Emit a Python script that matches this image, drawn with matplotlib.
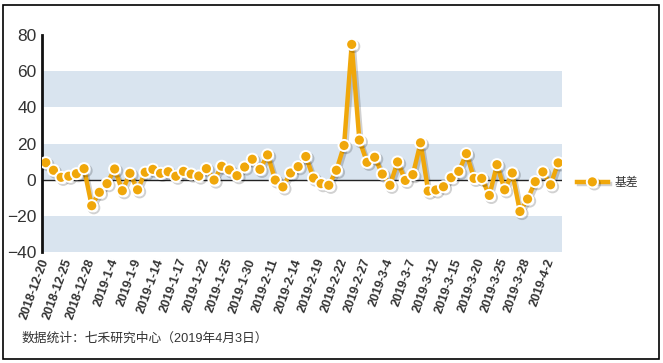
import matplotlib
matplotlib.use('Agg')
import matplotlib.pyplot as plt
import matplotlib.patheffects as pe
from matplotlib.patches import Rectangle

plt.rcParams['font.family'] = ['Liberation Sans', 'Noto Sans CJK SC', 'DejaVu Sans']

dates = ['2018-12-20', '2018-12-21', '2018-12-24', '2018-12-25', '2018-12-26', '2018-12-27', '2018-12-28',
         '2019-1-2', '2019-1-3', '2019-1-4', '2019-1-7', '2019-1-8', '2019-1-9', '2019-1-10', '2019-1-11',
         '2019-1-14', '2019-1-15', '2019-1-16', '2019-1-17', '2019-1-18', '2019-1-21', '2019-1-22',
         '2019-1-23', '2019-1-24', '2019-1-25', '2019-1-28', '2019-1-29', '2019-1-30', '2019-1-31',
         '2019-2-1', '2019-2-11', '2019-2-12', '2019-2-13', '2019-2-14', '2019-2-15', '2019-2-18',
         '2019-2-19', '2019-2-20', '2019-2-21', '2019-2-22', '2019-2-25', '2019-2-26', '2019-2-27',
         '2019-2-28', '2019-3-1', '2019-3-4', '2019-3-5', '2019-3-6', '2019-3-7', '2019-3-8',
         '2019-3-11', '2019-3-12', '2019-3-13', '2019-3-14', '2019-3-15', '2019-3-18', '2019-3-19',
         '2019-3-20', '2019-3-21', '2019-3-22', '2019-3-25', '2019-3-26', '2019-3-27', '2019-3-28',
         '2019-3-29', '2019-4-1', '2019-4-2', '2019-4-3']

basis = [9.4, 5.2, 1.3, 1.9, 3.3, 6.1, -14.4, -7.0, -2.2, 5.9, -6.1, 3.5, -5.6, 4.1, 5.7, 3.5, 4.4,
         1.9, 4.6, 3.1, 2.0, 6.1, -0.2, 7.4, 5.4, 2.2, 7.0, 11.3, 5.7, 13.7, -0.2, -4.0, 3.7, 7.2,
         12.8, 0.9, -2.2, -3.1, 5.2, 18.9, 74.8, 21.9, 9.6, 12.4, 3.1, -3.1, 9.8, -0.4, 2.8, 20.4,
         -6.3, -5.7, -3.9, 1.1, 4.6, 14.4, 0.7, 0.7, -8.7, 8.3, -5.6, 3.7, -17.6, -10.7, -1.1, 4.3,
         -2.8, 9.3]

yticks = [-40, -20, 0, 20, 40, 60, 80]
bands = [(-40, -20), (0, 20), (40, 60)]

W, H = 663, 363
fig = plt.figure(figsize=(W / 100, H / 100), dpi=100)
ax = fig.add_axes([42 / W, (H - 252) / H, 520 / W, 217 / H])

x = list(range(len(basis)))
for lo, hi in bands:
    ax.axhspan(lo, hi, color='#d9e4ef', lw=0, zorder=0)
ax.axhline(0, color='#222222', lw=1, zorder=1)

ax.plot(x, basis, color='#f0a70a', lw=3.2, marker='o', ms=8, mfc='#f0a70a', mec='white', mew=1.4,
        label='基差', zorder=3,
        path_effects=[pe.SimpleLineShadow(offset=(1.5, -1.5), alpha=0.18), pe.Normal()])

ax.set_xlim(-0.5, len(basis) - 0.5)
ax.set_ylim(-40, 80)
ax.set_yticks(yticks)
ax.tick_params(axis='y', length=0, pad=4, labelsize=12.5, labelcolor='#333333')
ax.set_xticks(x[::3])
ax.set_xticklabels(dates[::3], rotation=70, ha='right', va='center', rotation_mode='anchor',
                   fontsize=9, fontweight='bold', color='#333333')
ax.tick_params(axis='x', length=0, pad=5)

for s in ['top', 'right', 'bottom']:
    ax.spines[s].set_visible(False)
ax.spines['left'].set_linewidth(2)
ax.spines['left'].set_color('#111111')

ax.legend(loc='center left', bbox_to_anchor=(1 + 15 / 520, (252 - 183) / 217), borderaxespad=0,
          borderpad=0, frameon=False, handlelength=2.6, fontsize=8.5, labelcolor='#333333',
          handletextpad=0.55)

fig.text(22 / W, 1 - 339 / H, '数据统计：七禾研究中心（2019年4月3日）', fontsize=9.2, color='#333333',
         va='center', ha='left')

fig.patches.append(Rectangle((3 / W, 1 - 359 / H), 656 / W, 354 / H, transform=fig.transFigure,
                             fill=False, edgecolor='black', lw=1.2))

plt.savefig('out.png', dpi=100)
